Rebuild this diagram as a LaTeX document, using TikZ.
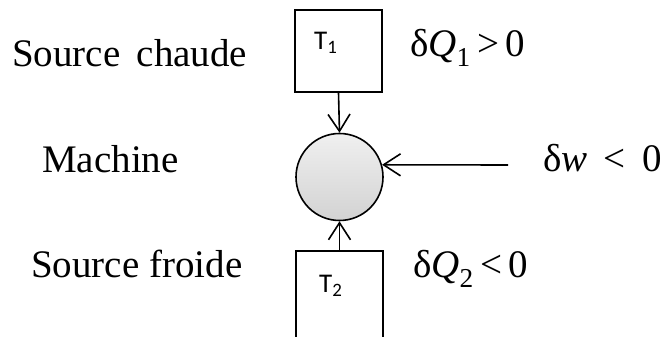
\documentclass[tikz,border=0pt]{standalone}
\usepackage{fontspec}
\setmainfont{Liberation Serif}
\newfontfamily\boxfont{Carlito}
\usetikzlibrary{arrows.meta}
\begin{document}
\begin{tikzpicture}[x=1pt,y=1pt,
  lbl/.style={anchor=base west,inner sep=0pt,font=\fontsize{39}{41}\selectfont},
  tlbl/.style={anchor=base west,inner sep=0pt,font=\boxfont\fontsize{27}{29}\selectfont},
  srcbox/.style={draw,line width=1.6pt,inner sep=0pt,minimum width=87pt},
  flow/.style={line width=1.6pt,-{Straight Barb[length=17pt,width=22pt,line width=1.6pt]}}]
\useasboundingbox (0,0) rectangle (665,337);
\clip (0,0) rectangle (665,337);
% boxes
\node[srcbox,minimum height=82pt] (hot) at (338.5,286) {};
\node[srcbox,minimum height=110pt,anchor=north] (cold) at (339.5,87) {};
\node[tlbl] (t1) at (314,287) {T\textsubscript{1}};
\node[tlbl] (t2) at (319,44) {T\textsubscript{2}};
% machine
\node[circle,draw,line width=1.6pt,minimum size=87pt,inner sep=0pt,
  top color=gray!12,bottom color=gray!35] (mach) at (339.5,160) {};
% arrows
\draw[flow] (hot.south) -- (mach.north);
\draw[flow] (cold.north) -- (mach.south);
\coordinate (wstart) at (508,172);
\draw[flow] (wstart) -- (mach.16);
% labels
\node[lbl] (sc) at (12,270) {Source\, chaude};
\node[lbl] (ma) at (42,164.5) {Machine};
\node[lbl] (sf) at (31,59) {Source froide};
\node[lbl] (q1) at (410,280) {δ\textit{Q}\textsubscript{1}\,>\,0};
\node[lbl] (q2) at (413,59) {δ\textit{Q}\textsubscript{2}\,<\,0};
\node[lbl] (dw) at (543,165) {δ\textit{w} \,<\, 0};
\end{tikzpicture}
\end{document}
